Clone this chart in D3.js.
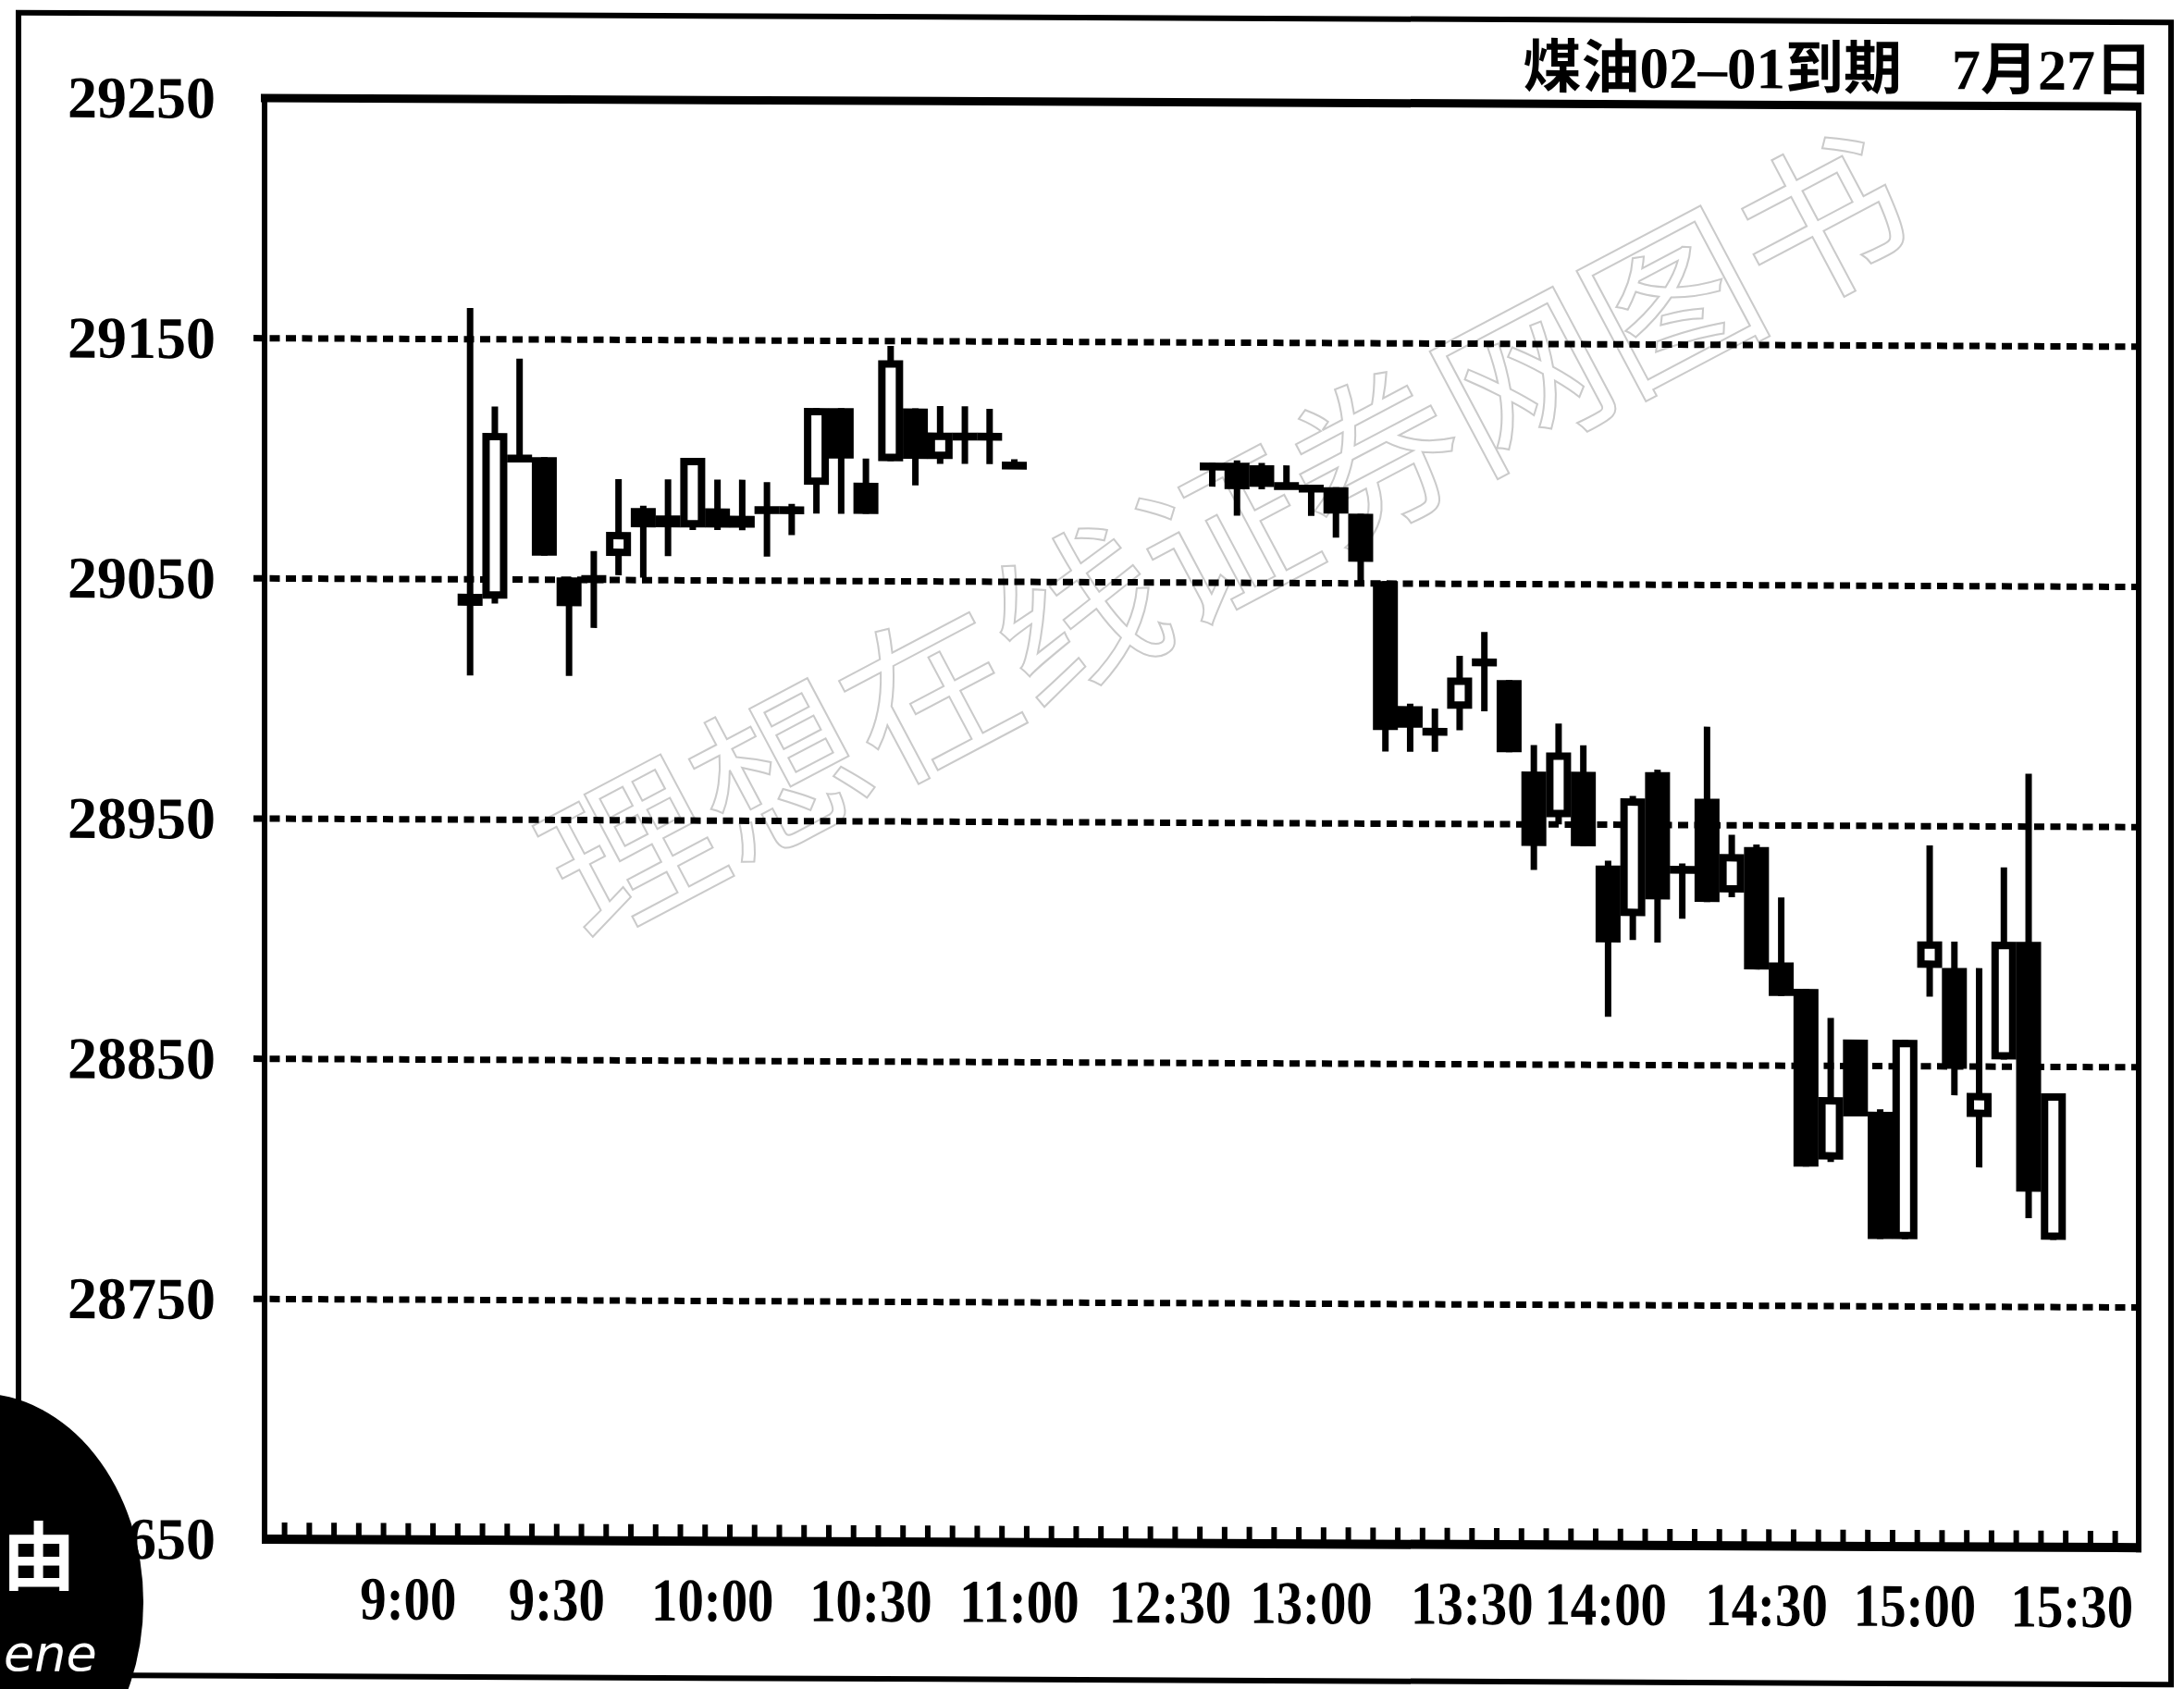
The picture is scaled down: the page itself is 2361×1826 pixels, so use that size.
<!DOCTYPE html>
<html>
<head>
<meta charset="utf-8">
<script src="https://cdn.jsdelivr.net/npm/d3@7"></script>
<style>
  html, body { margin: 0; padding: 0; background: #fff; }
  svg { display: block; }
</style>
</head>
<body>
<script>
var width = 2361;
var height = 1826;

// 5 minute bars; slot = column on the time axis (one tick per bar)
var slots = [7, 8, 9, 10, 11, 12, 13, 14, 15, 16, 17, 18, 19, 20, 21, 22, 23, 24, 25, 26, 27, 28, 29,
             37, 38, 39, 40, 41, 42, 43, 44, 45, 46, 47, 48, 49, 50, 51, 52, 53, 54,
             55, 56, 57, 58, 59, 60, 61, 62, 63, 64, 65, 66, 67, 68, 69, 70, 71];
var opens  = [29044, 29042, 29100, 29101, 29051, 29050, 29060, 29080, 29072, 29072, 29080, 29072,
              29081, 29081, 29090, 29122, 29091, 29100, 29122, 29101, 29112, 29111, 29100,
              29100, 29100, 29099, 29092, 29091, 29090, 29079, 29051, 28999, 28990, 28998, 29019,
              29010, 28972, 28953, 28972, 28933, 28912, 28972, 28933, 28961, 28922, 28941, 28893,
              28882, 28811, 28861, 28831, 28778, 28891, 28891, 28829, 28853, 28902, 28778];
var highs  = [29163, 29122, 29142, 29101, 29051, 29062, 29092, 29081, 29092, 29101, 29092, 29092,
              29091, 29082, 29122, 29122, 29101, 29148, 29122, 29123, 29123, 29122, 29101,
              29100, 29101, 29100, 29099, 29091, 29090, 29079, 29051, 29000, 28998, 29020, 29030,
              29010, 28983, 28992, 28983, 28935, 28962, 28973, 28934, 28991, 28946, 28942, 28920,
              28882, 28870, 28861, 28832, 28861, 28942, 28902, 28891, 28933, 28972, 28839];
var lows   = [29010, 29040, 29099, 29060, 29010, 29030, 29052, 29051, 29060, 29071, 29071, 29071,
              29060, 29069, 29078, 29078, 29078, 29100, 29090, 29099, 29099, 29099, 29098,
              29090, 29078, 29089, 29089, 29078, 29069, 29051, 28980, 28980, 28980, 28989, 28997,
              28980, 28931, 28950, 28941, 28870, 28902, 28901, 28911, 28918, 28920, 28890, 28879,
              28808, 28810, 28829, 28778, 28778, 28879, 28838, 28808, 28853, 28787, 28778];
var closes = [29039, 29111, 29102, 29060, 29039, 29052, 29070, 29072, 29077, 29101, 29072, 29077,
              29080, 29080, 29122, 29101, 29078, 29142, 29101, 29112, 29111, 29112, 29099,
              29099, 29089, 29090, 29090, 29090, 29079, 29059, 28989, 28990, 28989, 29011, 29018,
              28980, 28941, 28980, 28941, 28901, 28961, 28919, 28931, 28918, 28938, 28890, 28879,
              28808, 28837, 28829, 28778, 28861, 28902, 28849, 28839, 28902, 28798, 28839];

var priceTicks = [29250, 29150, 29050, 28950, 28850, 28750, 28650];
var timeLabels = ["9:00", "9:30", "10:00", "10:30", "11:00", "12:30", "13:00", "13:30", "14:00", "14:30", "15:00", "15:30"];
var timeSlots  = [4.5, 10.5, 16.8, 23.2, 29.2, 35.3, 41, 47.5, 52.9, 59.4, 65.4, 71.75];
var titleText = "煤油02–01到期";
var dateText = "7月27日";
var watermark = "理想在线证券网图书";

var plotLeft = 286, plotRight = 2312;
var serif = "'Liberation Serif', 'Times New Roman', 'Noto Sans CJK SC', serif";

var svg = d3.select("body")
    .append("svg")
    .attr("width", width)
    .attr("height", height);

svg.append("rect").attr("width", width).attr("height", height).attr("fill", "#fff");

// the scan is slightly tilted
var page = svg.append("g")
    .attr("transform", "translate(286,0) skewY(0.26) translate(-286,0)");

var x = d3.scaleLinear().domain([0, 74]).range([321, 2300]);
var y = d3.scaleLinear().domain([28650, 29250]).range([1664, 106]);

// watermark, one glyph at a time along a slanted line
var wmSize = 182, wmAngle = -28;
var wmRad = wmAngle * Math.PI / 180;
var wmChars = watermark.split("");
page.selectAll("text.wm")
    .data(wmChars)
    .enter()
    .append("text")
    .attr("class", "wm")
    .attr("transform", function (d, i) {
        var k = i - (wmChars.length - 1) / 2;
        var cx = 1320 + k * wmSize * Math.cos(wmRad);
        var cy = 565 + k * wmSize * Math.sin(wmRad);
        return "translate(" + cx + "," + cy + ") rotate(" + wmAngle + ")";
    })
    .attr("text-anchor", "middle")
    .attr("dominant-baseline", "central")
    .attr("font-family", "'Noto Sans CJK SC', sans-serif")
    .attr("font-size", wmSize)
    .attr("fill", "none")
    .attr("stroke", "#cacaca")
    .attr("stroke-width", 2)
    .text(function (d) { return d; });

// outer border of the page
page.append("rect")
    .attr("x", 20).attr("y", 15)
    .attr("width", 2327).attr("height", 1797)
    .attr("fill", "none")
    .attr("stroke", "#000")
    .attr("stroke-width", 6);

// dashed grid
page.selectAll("line.grid")
    .data(priceTicks.slice(1, -1))
    .enter()
    .append("line")
    .attr("class", "grid")
    .attr("x1", 274).attr("x2", plotRight)
    .attr("y1", function (d) { return y(d); })
    .attr("y2", function (d) { return y(d); })
    .attr("stroke", "#000")
    .attr("stroke-width", 7)
    .attr("stroke-dasharray", "11,6.5");

// candles
var bars = slots.map(function (s, i) {
    return { slot: s, o: opens[i], h: highs[i], l: lows[i], c: closes[i] };
});
var bw = 19, sw = 8;

var candle = page.selectAll("g.candle")
    .data(bars)
    .enter()
    .append("g")
    .attr("class", "candle");

candle.append("line")
    .attr("x1", function (d) { return x(d.slot); })
    .attr("x2", function (d) { return x(d.slot); })
    .attr("y1", function (d) { return y(d.h); })
    .attr("y2", function (d) { return y(d.l); })
    .attr("stroke", "#000")
    .attr("stroke-width", 7);

candle.append("rect")
    .attr("x", function (d) { return x(d.slot) - bw / 2; })
    .attr("y", function (d) { return y(Math.max(d.o, d.c)) + sw / 2; })
    .attr("width", bw)
    .attr("height", function (d) {
        return Math.max(y(Math.min(d.o, d.c)) - y(Math.max(d.o, d.c)) - sw, 0.5);
    })
    .attr("fill", function (d) { return d.c > d.o ? "#fff" : "#000"; })
    .attr("stroke", "#000")
    .attr("stroke-width", sw);

// plot frame
page.append("line").attr("x1", 282).attr("x2", 2315).attr("y1", y(29250)).attr("y2", y(29250))
    .attr("stroke", "#000").attr("stroke-width", 9);
page.append("line").attr("x1", plotLeft).attr("x2", plotLeft).attr("y1", 102).attr("y2", 1669)
    .attr("stroke", "#000").attr("stroke-width", 6);
page.append("line").attr("x1", plotRight).attr("x2", plotRight).attr("y1", 102).attr("y2", 1669)
    .attr("stroke", "#000").attr("stroke-width", 6);
page.append("line").attr("x1", 283).attr("x2", 2315).attr("y1", y(28650)).attr("y2", y(28650))
    .attr("stroke", "#000").attr("stroke-width", 10);

// one tick per bar along the bottom
page.selectAll("line.tick")
    .data(d3.range(75))
    .enter()
    .append("line")
    .attr("class", "tick")
    .attr("x1", function (d) { return x(d - 0.5); })
    .attr("x2", function (d) { return x(d - 0.5); })
    .attr("y1", y(28650) - 18)
    .attr("y2", y(28650))
    .attr("stroke", "#000")
    .attr("stroke-width", 6);

// price labels
page.selectAll("text.ylab")
    .data(priceTicks)
    .enter()
    .append("text")
    .attr("class", "ylab")
    .attr("x", 233)
    .attr("y", function (d) { return y(d); })
    .attr("dy", "0.34em")
    .attr("text-anchor", "end")
    .attr("font-family", serif)
    .attr("font-weight", "bold")
    .attr("font-size", 64)
    .text(function (d) { return d; });

// time labels (narrow type)
page.selectAll("text.xlab")
    .data(timeLabels)
    .enter()
    .append("text")
    .attr("class", "xlab")
    .attr("x", function (d, i) { return x(timeSlots[i]); })
    .attr("y", 1750)
    .attr("text-anchor", "middle")
    .attr("font-family", serif)
    .attr("font-weight", "bold")
    .attr("font-size", 66)
    .text(function (d) { return d; })
    .each(function () {
        var w = this.getComputedTextLength();
        d3.select(this).attr("textLength", w * 0.86).attr("lengthAdjust", "spacingAndGlyphs");
    });

// title
page.append("text")
    .attr("x", 2056).attr("y", 88)
    .attr("text-anchor", "end")
    .attr("font-family", serif)
    .attr("font-weight", "bold")
    .attr("font-size", 63)
    .text(titleText);
page.append("text")
    .attr("x", 2327).attr("y", 88)
    .attr("text-anchor", "end")
    .attr("font-family", serif)
    .attr("font-weight", "bold")
    .attr("font-size", 62)
    .text(dateText);

// logo in the lower left corner, partly off the page
svg.append("ellipse")
    .attr("cx", -25).attr("cy", 1732)
    .attr("rx", 180).attr("ry", 226)
    .attr("fill", "#000");
svg.append("text")
    .attr("x", 2).attr("y", 1712)
    .attr("font-family", "'Noto Sans CJK SC', sans-serif")
    .attr("font-weight", "bold")
    .attr("font-size", 80)
    .attr("fill", "#fff")
    .text("由");
svg.append("text")
    .attr("x", 4).attr("y", 1806)
    .attr("font-family", "'DejaVu Sans', sans-serif")
    .attr("font-style", "italic")
    .attr("font-size", 54)
    .attr("fill", "#fff")
    .text("ene");
</script>
</body>
</html>
